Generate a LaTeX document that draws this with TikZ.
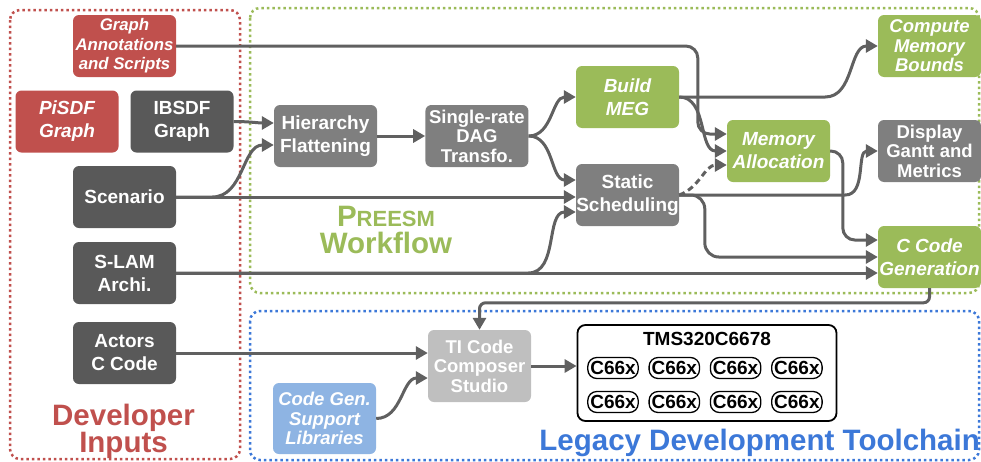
\documentclass[tikz,border=0pt]{standalone}
\usepackage{fontspec}
\setmainfont{Liberation Sans}
\usetikzlibrary{arrows.meta,positioning}
\definecolor{devred}{RGB}{192,80,77}
\definecolor{boxdark}{RGB}{89,89,89}
\definecolor{boxgray}{RGB}{127,127,127}
\definecolor{boxgreen}{RGB}{155,187,89}
\definecolor{boxlight}{RGB}{191,191,191}
\definecolor{boxblue}{RGB}{142,180,227}
\definecolor{toolblue}{RGB}{60,120,216}
\definecolor{wire}{RGB}{96,96,96}

\begin{document}
\begin{tikzpicture}[
  x=1pt, y=-1pt,
  every node/.style={font=\fontsize{19}{23}\selectfont\bfseries},
  box/.style={rounded corners=6pt, align=center, text=white, minimum width=103pt, minimum height=62pt, inner sep=0pt},
  ital/.style={font=\fontsize{19}{23}\selectfont\bfseries\itshape},
  three/.style={font=\fontsize{18.5}{19.5}\selectfont\bfseries},
  threeit/.style={font=\fontsize{18.5}{19.5}\selectfont\bfseries\itshape},
  arrow/.style={-{Triangle[length=12pt,width=13pt]}, line width=3pt, draw=wire},
  frame/.style={line width=2.5pt, dash pattern=on 2.5pt off 3pt, rounded corners=10pt},
  core/.style={draw=black, line width=1.3pt, rounded corners=9pt, minimum height=21pt, inner xsep=2.5pt, inner ysep=0pt},
  title/.style={font=\fontsize{29.5}{27}\selectfont\bfseries, align=center, inner sep=0pt}
]
\useasboundingbox (0,0) rectangle (981,461);

% dotted areas
\draw[frame, draw=devred] (10,10) rectangle (240,459);
\draw[frame, draw=boxgreen] (250,8) rectangle (979,293);
\draw[frame, draw=toolblue] (250,311) rectangle (979,460);

% developer inputs
\node[box, fill=devred, font=\fontsize{16.8}{19.5}\selectfont\bfseries\itshape] (ann) at (124.5,46) {Graph\\Annotations\\and Scripts};
\node[box, fill=devred, ital] (pisdf) at (67,121.5) {PiSDF\\Graph};
\node[box, fill=boxdark] (ibsdf) at (182,121.5) {IBSDF\\Graph};
\node[box, fill=boxdark] (scen) at (124.5,197) {Scenario};
\node[box, fill=boxdark] (slam) at (124.5,273) {S-LAM\\Archi.};
\node[box, fill=boxdark] (actors) at (124.5,353) {Actors\\C Code};
\node[title, text=devred] (devlabel) at (123.5,431) {Developer\\Inputs};

% workflow
\node[box, fill=boxgray] (hier) at (325.5,136) {Hierarchy\\Flattening};
\node[box, fill=boxgray, three, right=48pt of hier] (single) {Single-rate\\DAG\\Transfo.};
\node[box, fill=boxgreen, ital] (build) at (627.5,97) {Build\\MEG};
\node[box, fill=boxgray] (sched) at (627.5,195) {Static\\Scheduling};
\node[box, fill=boxgreen, ital] (mem) at (778.5,151) {Memory\\Allocation};
\node[box, fill=boxgreen, threeit] (bounds) at (929.5,46) {Compute\\Memory\\Bounds};
\node[box, fill=boxgray, three] (gantt) at (929.5,151) {Display\\Gantt and\\Metrics};
\node[box, fill=boxgreen, ital] (ccode) at (929.5,257) {C Code\\Generation};
\node[title, text=boxgreen] (preesm) at (386,230) {P{\fontsize{22}{27}\selectfont REESM}\\Workflow};

% legacy toolchain
\node[box, fill=boxlight, three, minimum height=72pt] (ccs) at (479.5,366) {TI Code\\Composer\\Studio};
\node[box, fill=boxblue, threeit, minimum height=71pt] (libs) at (324.5,418.5) {Code Gen.\\Support\\Libraries};
\node[draw=black, line width=1.8pt, rounded corners=8pt, minimum width=259pt, minimum height=96pt, inner sep=0pt] (tms) at (707,373) {};
\node (tmsname) at (707,339) {TMS320C6678};
\foreach \r/\y in {1/368,2/402}
  \foreach \c in {0,...,3}
    \node[core] (core\r\c) at (613+61.3*\c,\y) {C66x};
\node[title, text=toolblue, anchor=base east] (legacy) at (980,450) {Legacy Development Toolchain};

% connections
\draw[arrow, rounded corners=12pt] (ann.east) -| ([xshift=-29pt,yshift=17pt]mem.west) -- ([yshift=17pt]mem.west);
\draw[arrow] (ibsdf.east) to[out=0,in=180] ([yshift=13pt]hier.west);
\draw[arrow] (scen.east) -- ++(36,0) to[out=0,in=180] ([yshift=-9pt]hier.west);
\draw[arrow] (scen.east) -- (scen.east -| sched.west);
\draw[arrow] (slam.east) -- (slam.east -| ccode.west);
\draw[arrow] (slam.east) -- ++(352,0) to[out=0,in=180] ([yshift=-17pt]sched.west);
\draw[arrow] (hier) -- (single);
\draw[arrow] (single.east) to[out=0,in=180] (build.west);
\draw[arrow] (single.east) to[out=0,in=180] ([yshift=15pt]sched.west);
\draw[arrow] (build.east) -- ++(146,0) to[out=0,in=180] (bounds.west);
\draw[arrow] (build.east) to[out=0,in=180] (mem.west);
\draw[arrow, dash pattern=on 6pt off 4pt] (sched.east) to[out=20,in=180] ([yshift=-14pt]mem.west);
\draw[arrow] (sched.east) -- ++(166,0) to[out=0,in=180] (gantt.west);
\draw[arrow, rounded corners=14pt] (sched.east) -| ([xshift=-173pt]ccode.west) -- (ccode.west);
\draw[arrow, rounded corners=12pt] (mem.east) -| ([xshift=-35pt,yshift=17pt]ccode.west) -- ([yshift=17pt]ccode.west);
\draw[arrow, rounded corners=6pt] (ccode.south) |- ([yshift=27pt]ccs.north) -- (ccs.north);
\draw[arrow] (actors.east) -- (actors.east -| ccs.west);
\draw[arrow] (libs.east) to[out=0,in=180] ([yshift=-12pt]ccs.west);
\draw[arrow] (ccs.east) -- (ccs.east -| tms.west);
\end{tikzpicture}
\end{document}
